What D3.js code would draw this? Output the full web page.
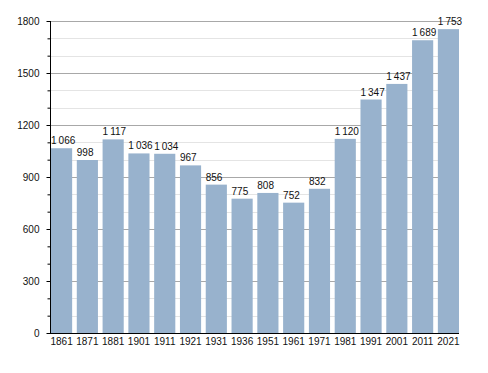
<!DOCTYPE html>
<head>
  <meta charset="utf-8">
  <script src="https://d3js.org/d3.v7.min.js"></script>
  <style>
    body { margin: 0; background: #fff; }
    text { font-family: "Liberation Sans", Arial, sans-serif; font-size: 10px; fill: #111; }
  </style>
</head>
<body>
<div id="root"></div>
<script>
  // population by census year
  var years = ["1861","1871","1881","1901","1911","1921","1931","1936","1951","1961","1971","1981","1991","2001","2011","2021"];
  var population = [1066, 998, 1117, 1036, 1034, 967, 856, 775, 808, 752, 832, 1120, 1347, 1437, 1689, 1753];
  var yTicks = [0, 300, 600, 900, 1200, 1500, 1800];
  var yMinorTicks = d3.range(0, 1801, 100);

  var W = 488, H = 373;
  var mLeft = 51, mRight = 459, mTop = 21, mBottom = 333;

  var svg = d3.select("#root").append("svg")
    .attr("width", W).attr("height", H);

  var x = d3.scaleBand()
    .domain(years)
    .range([mLeft, mRight])
    .paddingInner(0.18)
    .paddingOuter(0);

  var y = d3.scaleLinear()
    .domain([0, 1800])
    .range([mBottom, mTop]);

  // minor grid
  svg.append("g")
    .selectAll("line")
    .data(yMinorTicks.filter(function(d){ return d % 300 !== 0; }))
    .enter().append("line")
      .attr("x1", mLeft).attr("x2", mRight)
      .attr("y1", function(d){ return Math.round(y(d)) + 0.5; })
      .attr("y2", function(d){ return Math.round(y(d)) + 0.5; })
      .attr("stroke", "#e4e4e4");

  // major grid
  svg.append("g")
    .selectAll("line")
    .data(yTicks.filter(function(d){ return d > 0; }))
    .enter().append("line")
      .attr("x1", mLeft).attr("x2", mRight)
      .attr("y1", function(d){ return Math.round(y(d)) + 0.5; })
      .attr("y2", function(d){ return Math.round(y(d)) + 0.5; })
      .attr("stroke", "#a8a8a8");

  // bars
  svg.append("g")
    .selectAll("rect")
    .data(years)
    .enter().append("rect")
      .attr("x", function(d){ return x(d); })
      .attr("y", function(d, i){ return y(population[i]); })
      .attr("width", x.bandwidth())
      .attr("height", function(d, i){ return mBottom - y(population[i]); })
      .attr("fill", "#98b2cd");

  // value labels
  var fmt = function(v){ return v >= 1000 ? Math.floor(v / 1000) + "\u2009" + String(v % 1000).padStart(3, "0") : String(v); };
  svg.append("g")
    .selectAll("text")
    .data(years)
    .enter().append("text")
      .attr("x", function(d){ return x(d); })
      .attr("y", function(d, i){ return y(population[i]) - 4; })
      .text(function(d, i){ return fmt(population[i]); });

  // y axis
  var yAxis = d3.axisLeft(y).tickValues(yMinorTicks).tickSize(4)
    .tickFormat(function(d){ return d % 300 === 0 ? d : ""; });
  var gy = svg.append("g")
    .attr("transform", "translate(" + (mLeft - 0.5) + ",0)")
    .call(yAxis);
  gy.select(".domain").attr("stroke", "#000").attr("d", "M0," + mTop + "V" + mBottom);
  gy.selectAll(".tick line").attr("stroke", "#000")
    .attr("x2", function(d){ return d % 300 === 0 ? -4 : -3; });
  gy.selectAll(".tick text").attr("x", -11)
    .style("font-family", "'Liberation Sans', Arial, sans-serif").style("font-size", "10px").attr("fill", "#111");

  // x axis
  var gx = svg.append("g")
    .attr("transform", "translate(0," + (mBottom + 0.5) + ")")
    .call(d3.axisBottom(x).tickSize(0).tickPadding(4));
  gx.select(".domain").attr("stroke", "#000").attr("d", "M" + (mLeft - 1) + ",0H" + mRight);
  gx.selectAll(".tick text")
    .style("font-family", "'Liberation Sans', Arial, sans-serif").style("font-size", "10px").attr("fill", "#111");
</script>
</body>
